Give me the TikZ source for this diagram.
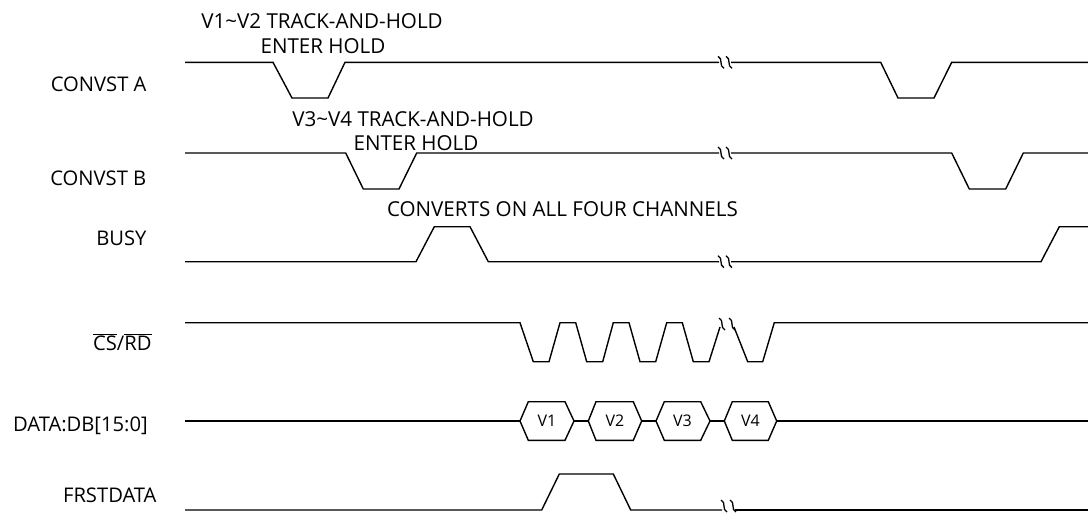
\documentclass[tikz,border=0pt]{standalone}
\usepackage{fontspec}
\setmainfont{Open Sans}
\begin{document}
\begin{tikzpicture}[x=1pt,y=-1pt,
  wave/.style={line width=1.4pt,line join=miter,black},
  brkline/.style={line width=1.3pt,black},
  lbl/.style={inner sep=0pt,font=\fontsize{20.2}{24}\selectfont},
  ann/.style={inner sep=0pt,font=\fontsize{20.6}{24}\selectfont},
  hexlbl/.style={inner sep=0pt,font=\fontsize{16}{19}\selectfont},
  brk/.pic={\draw[brkline] (-3,-6) .. controls (2.5,-3.5) and (-2.5,3.5) .. (3,6);}
]
\useasboundingbox (0,0) rectangle (1088,512);

% labels
\node[lbl,anchor=base east] (lA) at (146.7,91.7) {CONVST A};
\node[lbl,anchor=base east] (lB) at (146.5,185) {CONVST B};
\node[lbl,anchor=base east] (lBusy) at (146.7,245.7) {BUSY};
\node[lbl,anchor=base east] (lCS) at (151.7,350) {$\overline{\mbox{CS}}$/$\overline{\mbox{RD}}$};
\node[lbl,anchor=base east] (lD) at (148,431.7) {DATA:DB[15:0]};
\node[lbl,anchor=base east] (lF) at (156.7,502) {FRSTDATA};

% annotations
\node[ann,anchor=base] (a1) at (322,28.3) {V1\textasciitilde V2 TRACK-AND-HOLD};
\node[ann,anchor=base] (a2) at (323,53) {ENTER HOLD};
\node[ann,anchor=base] (b1) at (413,126.5) {V3\textasciitilde V4 TRACK-AND-HOLD};
\node[ann,anchor=base] (b2) at (416,150.8) {ENTER HOLD};
\node[ann,anchor=base] (c1) at (562.5,216.7) {CONVERTS ON ALL FOUR CHANNELS};

% CONVST A
\draw[wave] (185,62.3) -- (273,62.3) -- (292,98) -- (328,98) -- (345,62.3) -- (719,62.3);
\draw[wave] (731,62.3) -- (880.7,62.3) -- (898,98) -- (934,98) -- (951.7,62.3) -- (1088,62.3);
\pic at (721,62.3) {brk};
\pic at (729,62.3) {brk};

% CONVST B
\draw[wave] (185,153) -- (345.7,153) -- (363.3,189) -- (399,189) -- (416.7,153) -- (719,153);
\draw[wave] (731,153) -- (951.7,153) -- (969.3,189) -- (1005.7,189) -- (1023.3,153) -- (1088,153);
\pic at (721,153) {brk};
\pic at (729,153) {brk};

% BUSY
\draw[wave] (185,261.7) -- (416,261.7) -- (434.3,226.7) -- (470,226.7) -- (488.3,261.7) -- (719,261.7);
\draw[wave] (731,261.7) -- (1041,261.7) -- (1059.3,226.7) -- (1088,226.7);
\pic at (721,261.7) {brk};
\pic at (729,261.7) {brk};

% CS/RD
\draw[wave] (185,322.7) -- (520,322.7) -- (533.3,361.7) -- (549,361.7) -- (560,322.7)
  -- (575.7,322.7) -- (586.7,361.7) -- (602.7,361.7) -- (613.3,322.7)
  -- (629,322.7) -- (640,361.7) -- (655.7,361.7) -- (666.7,322.7)
  -- (682.3,322.7) -- (693.3,361.7) -- (709,361.7) -- (720,327);
\draw[wave] (734,327) -- (747.7,361.7) -- (762.7,361.7) -- (774.3,322.7) -- (1088,322.7);
\pic at (722,324) {brk};
\pic at (732,324) {brk};

% DATA
\draw[wave] (185,421) -- (520,421);
\draw[wave] (520,421) -- (528.3,401.7) -- (565,401.7) -- (574,421) -- (565,440.3) -- (528.3,440.3) -- cycle;
\draw[wave] (574,421) -- (588.3,421);
\draw[wave] (588.3,421) -- (596,401.7) -- (633.3,401.7) -- (641.7,421) -- (633.3,440.3) -- (596,440.3) -- cycle;
\draw[wave] (641.7,421) -- (656,421);
\draw[wave] (656,421) -- (664.3,401.7) -- (700.7,401.7) -- (710,421) -- (700.7,440.3) -- (664.3,440.3) -- cycle;
\draw[wave] (710,421) -- (724.3,421);
\draw[wave] (724.3,421) -- (732.3,401.7) -- (768.3,401.7) -- (776.7,421) -- (768.3,440.3) -- (732.3,440.3) -- cycle;
\draw[wave] (776.7,421) -- (1088,421);
\node[hexlbl] (v1) at (547,421) {V1};
\node[hexlbl] (v2) at (615,421) {V2};
\node[hexlbl] (v3) at (682.5,421) {V3};
\node[hexlbl] (v4) at (750.5,421) {V4};

% FRSTDATA
\draw[wave] (185,510) -- (541.7,510) -- (559.3,474) -- (613.3,474) -- (630.7,510) -- (722,510);
\draw[wave] (735,510) -- (1088,510);
\pic at (724,506) {brk};
\pic at (733,506) {brk};
\end{tikzpicture}
\end{document}
